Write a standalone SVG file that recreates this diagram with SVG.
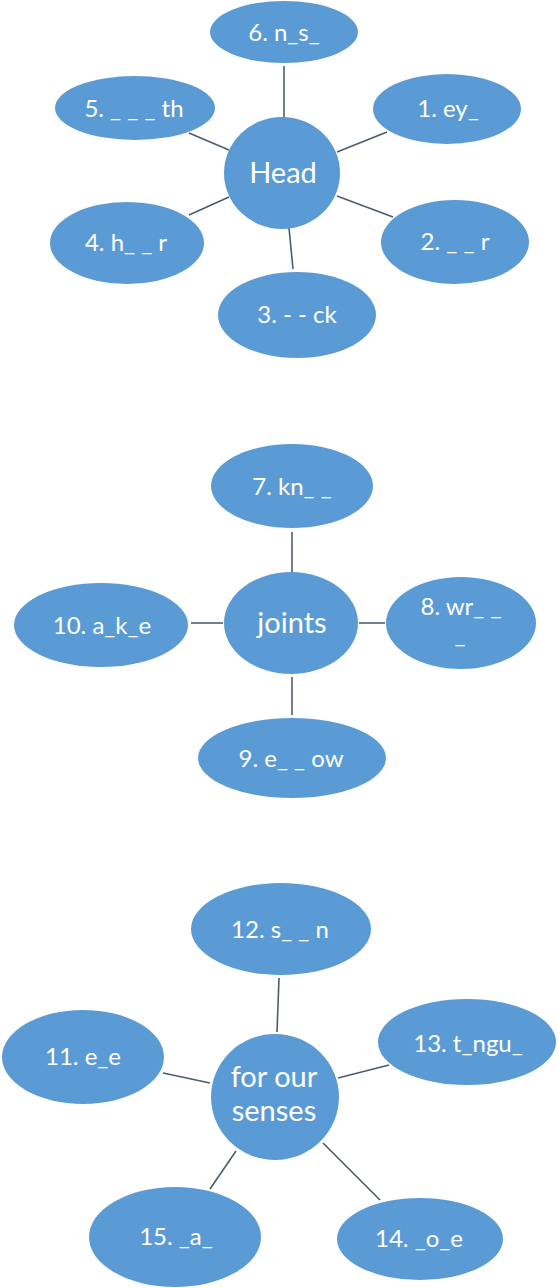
<svg xmlns="http://www.w3.org/2000/svg" width="558" height="1288" viewBox="0 0 558 1288">
<style>
.n{fill:#5b9bd5;}
.t{fill:#ffffff;font-family:Lato,"Liberation Sans",sans-serif;font-size:24px;text-anchor:middle;}
.c{font-size:29px;}
.e{stroke:#4d5d6e;stroke-width:1.6;fill:none;}
</style>
<rect width="558" height="1288" fill="#ffffff"/>
<g id="connectors">
<line class="e" x1="284" y1="66" x2="284" y2="118"/>
<line class="e" x1="189" y1="133" x2="229" y2="150"/>
<line class="e" x1="337" y1="152" x2="387" y2="132"/>
<line class="e" x1="189" y1="215" x2="229" y2="197"/>
<line class="e" x1="337" y1="196" x2="393" y2="217"/>
<line class="e" x1="289" y1="228" x2="293" y2="269"/>
<line class="e" x1="292" y1="532" x2="292" y2="572"/>
<line class="e" x1="191" y1="623" x2="223" y2="623"/>
<line class="e" x1="359" y1="623" x2="385" y2="623"/>
<line class="e" x1="292" y1="677" x2="292" y2="715"/>
<line class="e" x1="279" y1="978" x2="277" y2="1032"/>
<line class="e" x1="163" y1="1073" x2="210" y2="1083"/>
<line class="e" x1="338" y1="1078" x2="389" y2="1065"/>
<line class="e" x1="236" y1="1151" x2="210" y2="1189"/>
<line class="e" x1="323" y1="1143" x2="380" y2="1200"/>
</g>
<g id="head"><ellipse class="n" cx="282" cy="173" rx="58" ry="56"/><text class="t c" x="283" y="183">Head</text></g>
<g id="n6"><ellipse class="n" cx="284" cy="32" rx="74" ry="31"/><text class="t" x="284" y="41">6. n_s_</text></g>
<g id="n5"><ellipse class="n" cx="135" cy="108" rx="80" ry="32"/><text class="t" x="134" y="117">5. _ _ _ th</text></g>
<g id="n1"><ellipse class="n" cx="447" cy="109" rx="74" ry="35"/><text class="t" x="448" y="117">1. ey_</text></g>
<g id="n4"><ellipse class="n" cx="127" cy="243" rx="77" ry="41"/><text class="t" x="126" y="251">4. h_ _ r</text></g>
<g id="n2"><ellipse class="n" cx="455" cy="242" rx="74" ry="42"/><text class="t" x="455" y="250">2. _ _ r</text></g>
<g id="n3"><ellipse class="n" cx="297" cy="315" rx="79" ry="43"/><text class="t" x="297" y="323">3. - - ck</text></g>
<g id="joints"><ellipse class="n" cx="291" cy="623" rx="67" ry="51"/><text class="t c" x="292" y="633">joints</text></g>
<g id="n7"><ellipse class="n" cx="292" cy="486" rx="81" ry="42"/><text class="t" x="292" y="495">7. kn_ _</text></g>
<g id="n10"><ellipse class="n" cx="101" cy="625" rx="87" ry="42"/><text class="t" x="102" y="634">10. a_k_e</text></g>
<g id="n8"><ellipse class="n" cx="461" cy="623" rx="75" ry="46"/><text class="t" x="461" y="615">8. wr_ _</text><text class="t" x="460" y="643">_</text></g>
<g id="n9"><ellipse class="n" cx="292" cy="758" rx="94" ry="40"/><text class="t" x="291" y="767">9. e_ _ ow</text></g>
<g id="senses"><ellipse class="n" cx="275" cy="1097" rx="64" ry="63"/><text class="t c" x="274" y="1087">for our</text><text class="t c" x="274" y="1121">senses</text></g>
<g id="n12"><ellipse class="n" cx="281" cy="929" rx="90" ry="46"/><text class="t" x="280" y="938">12. s_ _ n</text></g>
<g id="n11"><ellipse class="n" cx="83" cy="1057" rx="81" ry="47"/><text class="t" x="83" y="1065">11. e_e</text></g>
<g id="n13"><ellipse class="n" cx="467" cy="1042" rx="89" ry="43"/><text class="t" x="468" y="1052">13. t_ngu_</text></g>
<g id="n15"><ellipse class="n" cx="175" cy="1237" rx="86" ry="50"/><text class="t" x="176" y="1245">15. _a_</text></g>
<g id="n14"><ellipse class="n" cx="420" cy="1239" rx="83" ry="41"/><text class="t" x="419" y="1247">14. _o_e</text></g>
</svg>
